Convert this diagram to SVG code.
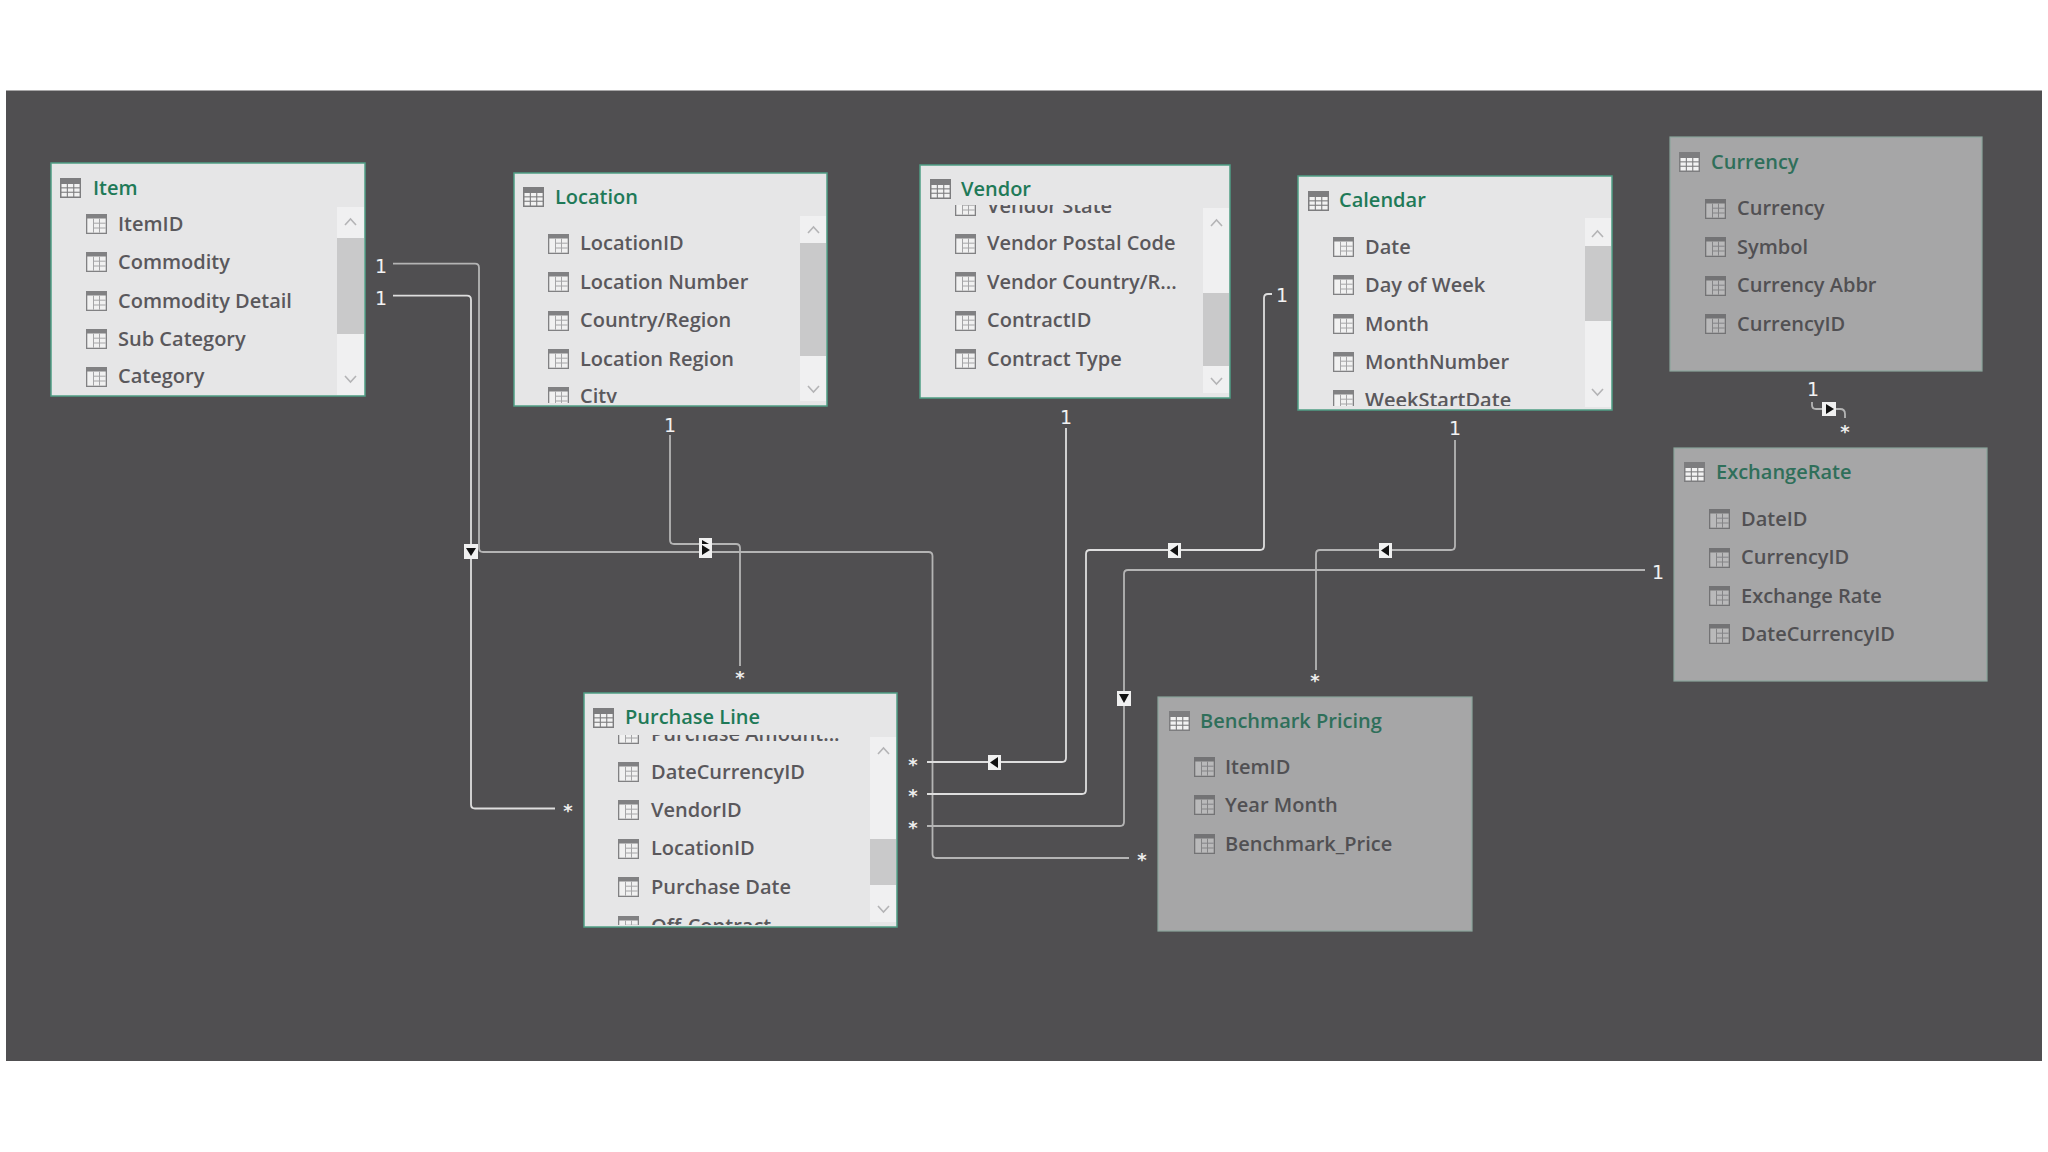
<svg xmlns="http://www.w3.org/2000/svg" width="2048" height="1152" viewBox="0 0 2048 1152">
<style>
text{font-family:"Open Sans","Noto Sans","Liberation Sans",sans-serif}
.t{fill:#e6e6e7;stroke:#4f9e85;stroke-width:1.5}
.g{fill:#a6a6a7;stroke:#8aa59b;stroke-width:1.2}
.title{font-size:20px;font-weight:600;fill:#1f7a58}
.gt{fill:#2f6f5a}
.f{font-size:20px;font-weight:600;fill:#5a585c}
.gf{fill:#515053}
.track{fill:#f0f0f1}
.thumb{fill:#c9c9ca}
.chev{fill:none;stroke:#b4b4b6;stroke-width:1.6}
.c{fill:none;stroke:#b4b4b4;stroke-width:1.8}
.cw{fill:none;stroke:#dedede;stroke-width:1.8}
.card{font-family:"DejaVu Sans",sans-serif;font-size:19px;fill:#f2f2f2;text-anchor:middle}
.star{font-family:"DejaVu Sans",sans-serif;font-size:18px;font-weight:700;fill:#eeeeee;text-anchor:middle}
.mk{fill:#f0f0f0}
.tri{fill:#111}
</style>
<defs>
<symbol id="ti" viewBox="0 0 21 20" width="21" height="20">
<rect width="21" height="20" fill="#7d7d7f"/>
<g fill="#f2f2f2"><rect x="1.5" y="6" width="5.3" height="3.3"/><rect x="7.9" y="6" width="5.3" height="3.3"/><rect x="14.3" y="6" width="5.3" height="3.3"/><rect x="1.5" y="10.4" width="5.3" height="3.3"/><rect x="7.9" y="10.4" width="5.3" height="3.3"/><rect x="14.3" y="10.4" width="5.3" height="3.3"/><rect x="1.5" y="14.8" width="5.3" height="3.7"/><rect x="7.9" y="14.8" width="5.3" height="3.7"/><rect x="14.3" y="14.8" width="5.3" height="3.7"/></g>
</symbol>
<symbol id="fi" viewBox="0 0 21 20" width="21" height="20">
<rect width="21" height="20" fill="#818183"/>
<rect x="1.3" y="4.5" width="18.4" height="14.2" fill="#f1f1f1"/>
<path d="M7.5 4.5V18.7M13.5 4.500V18.7M7.5 9.2H19.7M7.5 14H19.7" stroke="#a5a5a7" stroke-width="1" fill="none"/>
</symbol>
<symbol id="gfi" viewBox="0 0 21 20" width="21" height="20">
<rect width="21" height="20" fill="#737375"/>
<rect x="1.3" y="4.5" width="18.4" height="14.2" fill="#b9b9ba"/>
<path d="M7.5 4.5V18.7M13.5 4.500V18.7M7.5 9.2H19.7M7.5 14H19.7" stroke="#858587" stroke-width="1" fill="none"/>
</symbol>
<clipPath id="c-loc"><rect x="514" y="210" width="286" height="193"/></clipPath>
<clipPath id="c-ven"><rect x="921" y="205" width="282" height="190"/></clipPath>
<clipPath id="c-cal"><rect x="1298" y="218" width="286" height="188"/></clipPath>
<clipPath id="c-pl"><rect x="584" y="735" width="286" height="190"/></clipPath>
</defs>
<rect width="2048" height="1152" fill="#fff"/>
<rect x="6" y="90.500" width="2036" height="970.500" fill="#504f51"/>

<g id="connectors">
<path class="c" d="M393 263.700H475Q479 263.700 479 267.700V548Q479 552 483 552H928.500Q932.500 552 932.500 556V854Q932.500 858 936.500 858H1129"/>
<path class="cw" d="M393 295.700H467Q471 295.700 471 299.700V804.500Q471 808.500 475 808.500H555"/>
<path class="c" d="M670 435V540Q670 544 674 544H736Q740 544 740 548V666"/>
<path class="cw" d="M1066 428V758Q1066 762 1062 762H927"/>
<path class="cw" d="M1272 294H1268Q1264 294 1264 298V546Q1264 550 1260 550H1090Q1086 550 1086 554V790Q1086 794 1082 794H927"/>
<path class="c" d="M1455 440V546Q1455 550 1451 550H1320Q1316 550 1316 554V670"/>
<path class="c" d="M1645 570H1128Q1124 570 1124 574V822Q1124 826 1120 826H927"/>
<path class="c" d="M1812 402V405Q1812 409 1816 409H1840Q1845 409 1845 414V418"/>
</g>
<g id="connector-markers">
<rect class="mk" x="464" y="544" width="14" height="15"/><path class="tri" d="M466 548H476L471 556Z"/>
<rect class="mk" x="699" y="538" width="13" height="20"/><path class="tri" d="M702 540L709 544H702ZM702 545L710 550L702 555Z"/>
<rect class="mk" x="988" y="755" width="13" height="15"/><path class="tri" d="M998 757V768L990 762.500Z"/>
<rect class="mk" x="1168" y="543" width="13" height="15"/><path class="tri" d="M1178 545V556L1170 550.500Z"/>
<rect class="mk" x="1379" y="543" width="13" height="15"/><path class="tri" d="M1389 545V556L1381 550.500Z"/>
<rect class="mk" x="1117" y="691" width="14" height="15"/><path class="tri" d="M1119 694H1129L1124 703Z"/>
<rect class="mk" x="1822" y="402" width="14" height="14"/><path class="tri" d="M1826 404V414L1834 409Z"/>
</g>
<g id="cardinalities">
<text class="card" x="381" y="273">1</text>
<text class="card" x="381" y="305">1</text>
<text class="card" x="670" y="432">1</text>
<text class="card" x="1066" y="424">1</text>
<text class="card" x="1282" y="302">1</text>
<text class="card" x="1455" y="435">1</text>
<text class="card" x="1658" y="579">1</text>
<text class="card" x="1813" y="396">1</text>
<text class="star" x="568" y="817">*</text>
<text class="star" x="740" y="684">*</text>
<text class="star" x="913" y="771">*</text>
<text class="star" x="913" y="802">*</text>
<text class="star" x="913" y="834">*</text>
<text class="star" x="1142" y="866">*</text>
<text class="star" x="1315" y="687">*</text>
<text class="star" x="1845" y="438">*</text>
</g>

<g id="table-item">
<rect class="t" x="51" y="163" width="314" height="233"/>
<rect class="track" x="337" y="207" width="27" height="188"/><rect class="thumb" x="337" y="238" width="27" height="96"/>
<path class="chev" d="M345 225L350.500 219L356 225M345 376L350.500 382L356 376"/>
<use href="#ti" x="60" y="178"/><text class="title" x="93" y="195">Item</text>
<use href="#fi" x="86" y="214"/><text class="f" x="118" y="231">ItemID</text>
<use href="#fi" x="86" y="252"/><text class="f" x="118" y="269">Commodity</text>
<use href="#fi" x="86" y="291"/><text class="f" x="118" y="308">Commodity Detail</text>
<use href="#fi" x="86" y="329"/><text class="f" x="118" y="346">Sub Category</text>
<use href="#fi" x="86" y="367"/><text class="f" x="118" y="383">Category</text>
</g>

<g id="table-location">
<rect class="t" x="514" y="173" width="313" height="233"/>
<rect class="track" x="800" y="216" width="26" height="185"/><rect class="thumb" x="800" y="243" width="26" height="113"/>
<path class="chev" d="M808 233L813.500 227L819 233M808 386L813.500 392L819 386"/>
<use href="#ti" x="523" y="187"/><text class="title" x="555" y="204">Location</text>
<g clip-path="url(#c-loc)">
<use href="#fi" x="548" y="234"/><text class="f" x="580" y="250">LocationID</text>
<use href="#fi" x="548" y="272"/><text class="f" x="580" y="289">Location Number</text>
<use href="#fi" x="548" y="311"/><text class="f" x="580" y="327">Country/Region</text>
<use href="#fi" x="548" y="349"/><text class="f" x="580" y="366">Location Region</text>
<use href="#fi" x="548" y="387"/><text class="f" x="580" y="403">City</text>
</g>
</g>

<g id="table-vendor">
<rect class="t" x="920" y="165" width="310" height="233"/>
<rect class="track" x="1203" y="208" width="26" height="185"/><rect class="thumb" x="1203" y="293" width="26" height="73"/>
<path class="chev" d="M1211 226L1216.500 220L1222 226M1211 378L1216.500 384L1222 378"/>
<use href="#ti" x="930" y="179"/><text class="title" x="961" y="196">Vendor</text>
<g clip-path="url(#c-ven)">
<use href="#fi" x="955" y="196"/><text class="f" x="987" y="213">Vendor State</text>
<use href="#fi" x="955" y="234"/><text class="f" x="987" y="250">Vendor Postal Code</text>
<use href="#fi" x="955" y="272"/><text class="f" x="987" y="289">Vendor Country/R...</text>
<use href="#fi" x="955" y="311"/><text class="f" x="987" y="327">ContractID</text>
<use href="#fi" x="955" y="349"/><text class="f" x="987" y="366">Contract Type</text>
</g>
</g>

<g id="table-calendar">
<rect class="t" x="1298" y="176" width="314" height="234"/>
<rect class="track" x="1585" y="218" width="26" height="189"/><rect class="thumb" x="1585" y="246" width="26" height="75"/>
<path class="chev" d="M1592 237L1597.500 231L1603 237M1592 389L1597.500 395L1603 389"/>
<use href="#ti" x="1308" y="191"/><text class="title" x="1339" y="207">Calendar</text>
<g clip-path="url(#c-cal)">
<use href="#fi" x="1333" y="237"/><text class="f" x="1365" y="254">Date</text>
<use href="#fi" x="1333" y="275"/><text class="f" x="1365" y="292">Day of Week</text>
<use href="#fi" x="1333" y="314"/><text class="f" x="1365" y="331">Month</text>
<use href="#fi" x="1333" y="352"/><text class="f" x="1365" y="369">MonthNumber</text>
<use href="#fi" x="1333" y="390"/><text class="f" x="1365" y="407">WeekStartDate</text>
</g>
</g>

<g id="table-currency">
<rect class="g" x="1670" y="137" width="312" height="234"/>
<use href="#ti" x="1679" y="152"/><text class="title gt" x="1711" y="169">Currency</text>
<use href="#gfi" x="1705" y="199"/><text class="f gf" x="1737" y="215">Currency</text>
<use href="#gfi" x="1705" y="237"/><text class="f gf" x="1737" y="254">Symbol</text>
<use href="#gfi" x="1705" y="276"/><text class="f gf" x="1737" y="292">Currency Abbr</text>
<use href="#gfi" x="1705" y="314"/><text class="f gf" x="1737" y="331">CurrencyID</text>
</g>

<g id="table-exchangerate">
<rect class="g" x="1674" y="448" width="313" height="233"/>
<use href="#ti" x="1684" y="462"/><text class="title gt" x="1716" y="479">ExchangeRate</text>
<use href="#gfi" x="1709" y="509"/><text class="f gf" x="1741" y="526">DateID</text>
<use href="#gfi" x="1709" y="548"/><text class="f gf" x="1741" y="564">CurrencyID</text>
<use href="#gfi" x="1709" y="586"/><text class="f gf" x="1741" y="603">Exchange Rate</text>
<use href="#gfi" x="1709" y="624"/><text class="f gf" x="1741" y="641">DateCurrencyID</text>
</g>

<g id="table-purchase-line">
<rect class="t" x="584" y="693" width="313" height="234"/>
<rect class="track" x="870" y="737" width="26" height="185"/><rect class="thumb" x="870" y="839" width="26" height="46"/>
<path class="chev" d="M878 754L883.500 748L889 754M878 906L883.500 912L889 906"/>
<use href="#ti" x="593" y="708"/><text class="title" x="625" y="724">Purchase Line</text>
<g clip-path="url(#c-pl)">
<use href="#fi" x="618" y="724"/><text class="f" x="651" y="741">Purchase Amount...</text>
<use href="#fi" x="618" y="762"/><text class="f" x="651" y="779">DateCurrencyID</text>
<use href="#fi" x="618" y="800"/><text class="f" x="651" y="817">VendorID</text>
<use href="#fi" x="618" y="839"/><text class="f" x="651" y="855">LocationID</text>
<use href="#fi" x="618" y="877"/><text class="f" x="651" y="894">Purchase Date</text>
<use href="#fi" x="618" y="916"/><text class="f" x="651" y="933">Off-Contract</text>
</g>
</g>

<g id="table-benchmark-pricing">
<rect class="g" x="1158" y="697" width="314" height="234"/>
<use href="#ti" x="1169" y="711"/><text class="title gt" x="1200" y="728">Benchmark Pricing</text>
<use href="#gfi" x="1194" y="757"/><text class="f gf" x="1225" y="774">ItemID</text>
<use href="#gfi" x="1194" y="795"/><text class="f gf" x="1225" y="812">Year Month</text>
<use href="#gfi" x="1194" y="834"/><text class="f gf" x="1225" y="851">Benchmark_Price</text>
</g>
</svg>
